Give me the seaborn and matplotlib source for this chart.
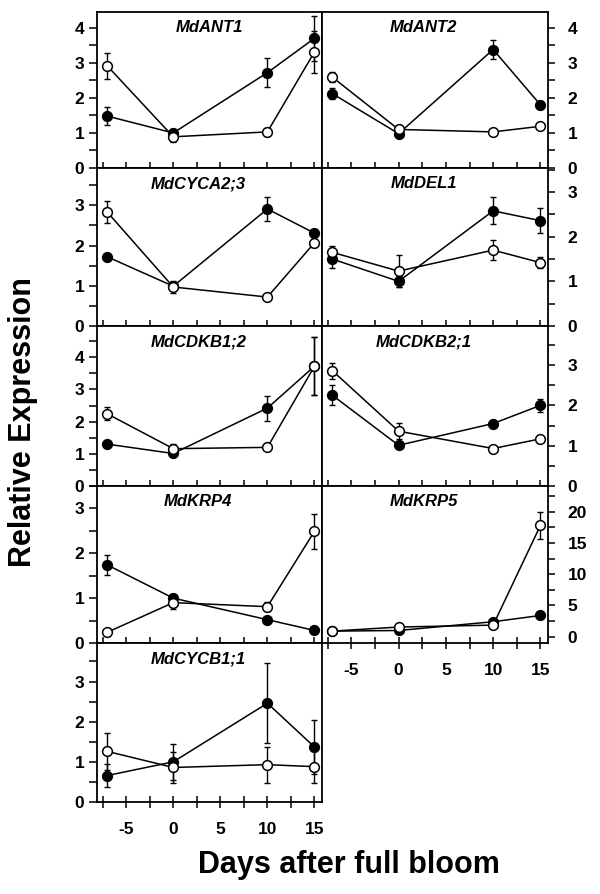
import numpy as np
import pandas as pd
import matplotlib
matplotlib.use("Agg")
import matplotlib.pyplot as plt
from matplotlib.ticker import MultipleLocator
import seaborn as sns

# =========================
# DATA
# =========================

days = [-7, 0, 10, 15]

genes = ["MdANT1", "MdANT2", "MdCYCA2;3", "MdDEL1", "MdCDKB1;2",
         "MdCDKB2;1", "MdKRP4", "MdKRP5", "MdCYCB1;1"]

# filled circles
ant1_closed = [1.48, 1.00, 2.72, 3.70]
ant1_closed_err = [0.25, 0.10, 0.42, 0.65]
ant2_closed = [2.12, 0.98, 3.38, 1.80]
ant2_closed_err = [0.15, 0.06, 0.28, 0.12]
cyca23_closed = [1.72, 0.99, 2.91, 2.31]
cyca23_closed_err = [0.0, 0.10, 0.30, 0.08]
del1_closed = [1.50, 1.00, 2.58, 2.36]
del1_closed_err = [0.20, 0.12, 0.30, 0.28]
cdkb12_closed = [1.30, 1.01, 2.42, 3.72]
cdkb12_closed_err = [0.06, 0.08, 0.39, 0.90]
cdkb21_closed = [2.25, 1.01, 1.55, 2.00]
cdkb21_closed_err = [0.25, 0.05, 0.10, 0.17]
krp4_closed = [1.74, 1.00, 0.52, 0.28]
krp4_closed_err = [0.22, 0.10, 0.0, 0.0]
krp5_closed = [0.9, 1.0, 2.4, 3.4]
krp5_closed_err = [0.0, 0.0, 0.3, 0.3]
cycb11_closed = [0.66, 1.00, 2.46, 1.37]
cycb11_closed_err = [0.28, 0.45, 1.00, 0.68]

# open circles
ant1_open = [2.91, 0.89, 1.03, 3.31]
ant1_open_err = [0.36, 0.15, 0.12, 0.60]
ant2_open = [2.59, 1.10, 1.03, 1.19]
ant2_open_err = [0.15, 0.08, 0.0, 0.0]
cyca23_open = [2.83, 0.97, 0.72, 2.07]
cyca23_open_err = [0.28, 0.15, 0.0, 0.10]
del1_open = [1.65, 1.23, 1.70, 1.42]
del1_open_err = [0.15, 0.35, 0.22, 0.12]
cdkb12_open = [2.24, 1.16, 1.20, 3.72]
cdkb12_open_err = [0.20, 0.15, 0.0, 0.90]
cdkb21_open = [2.86, 1.36, 0.93, 1.17]
cdkb21_open_err = [0.20, 0.20, 0.05, 0.08]
krp4_open = [0.24, 0.90, 0.81, 2.49]
krp4_open_err = [0.0, 0.15, 0.10, 0.39]
krp5_open = [0.9, 1.55, 1.86, 17.8]
krp5_open_err = [0.0, 0.0, 0.0, 2.1]
cycb11_open = [1.26, 0.86, 0.93, 0.88]
cycb11_open_err = [0.47, 0.38, 0.45, 0.40]

closed_vals = [ant1_closed, ant2_closed, cyca23_closed, del1_closed, cdkb12_closed,
               cdkb21_closed, krp4_closed, krp5_closed, cycb11_closed]
closed_errs = [ant1_closed_err, ant2_closed_err, cyca23_closed_err, del1_closed_err,
               cdkb12_closed_err, cdkb21_closed_err, krp4_closed_err, krp5_closed_err,
               cycb11_closed_err]
open_vals = [ant1_open, ant2_open, cyca23_open, del1_open, cdkb12_open,
             cdkb21_open, krp4_open, krp5_open, cycb11_open]
open_errs = [ant1_open_err, ant2_open_err, cyca23_open_err, del1_open_err,
             cdkb12_open_err, cdkb21_open_err, krp4_open_err, krp5_open_err,
             cycb11_open_err]

y_limits = [(0, 4.45), (0, 4.45), (0, 3.93), (0, 3.54), (0, 4.97),
            (0, 3.97), (0, 3.5), (-1, 24.1), (0, 3.96)]
y_major = [1, 1, 1, 1, 1, 1, 1, 5, 1]

# =========================
# STYLE
# =========================

sns.set_theme(style="ticks")
plt.rcParams['font.family'] = ['Liberation Sans', 'DejaVu Sans']
plt.rcParams['font.weight'] = 'bold'
plt.rcParams['axes.linewidth'] = 1.3
plt.rcParams['axes.unicode_minus'] = False
for key in ['text.color', 'axes.labelcolor', 'xtick.color', 'ytick.color',
            'axes.edgecolor']:
    plt.rcParams[key] = 'black'

fig = plt.figure(figsize=(6, 8.94), dpi=100)
W, H = 600.0, 894.0

col_x = [97, 322]
col_w = [225, 226]
row_edges = [12, 168, 326, 486, 643, 802]

# =========================
# PANELS
# =========================

for i, gene in enumerate(genes):
    row, col = divmod(i, 2)
    top, bot = row_edges[row], row_edges[row + 1]
    ax = fig.add_axes([col_x[col] / W, 1 - bot / H, col_w[col] / W, (bot - top) / H])

    df = pd.DataFrame({
        "day": days * 2,
        "value": closed_vals[i] + open_vals[i],
        "err": closed_errs[i] + open_errs[i],
        "group": ["closed"] * 4 + ["open"] * 4,
    })

    for grp, face in [("closed", "black"), ("open", "white")]:
        sub = df[df["group"] == grp]
        ax.errorbar(sub["day"], sub["value"], yerr=sub["err"], fmt="none",
                    ecolor="black", elinewidth=1, capsize=2.3, capthick=1, zorder=2)
        sns.lineplot(data=sub, x="day", y="value", ax=ax, color="black",
                     linewidth=1.1, marker="o", markersize=7,
                     markerfacecolor=face, markeredgecolor="black",
                     markeredgewidth=1.1, zorder=3)

    ax.set_xlim(-8.1, 15.8)
    ax.set_ylim(*y_limits[i])
    ax.xaxis.set_major_locator(MultipleLocator(5))
    ax.xaxis.set_minor_locator(MultipleLocator(2.5))
    ax.yaxis.set_major_locator(MultipleLocator(y_major[i]))
    ax.yaxis.set_minor_locator(MultipleLocator(y_major[i] / 2))
    ax.set_xlabel("")
    ax.set_ylabel("")

    for s in ax.spines.values():
        s.set_visible(True)
        s.set_color("black")

    bottom_panel = (i == 8) or (i == 7)
    if bottom_panel:
        ax.tick_params(axis="x", which="both", direction="inout", length=9,
                       width=1.1, labelsize=12.5, pad=10, labelbottom=True)
    else:
        ax.tick_params(axis="x", which="both", direction="in", length=4,
                       width=1.1, labelbottom=False)

    if col == 0:
        ax.tick_params(axis="y", which="major", direction="out", length=6, width=1.1,
                       labelsize=12.5, pad=3, left=True, right=False,
                       labelleft=True, labelright=False)
        ax.tick_params(axis="y", which="minor", direction="out", length=6, width=1.1,
                       left=True, right=False)
    else:
        ax.tick_params(axis="y", which="major", direction="out", length=5, width=1.1,
                       labelsize=12.5, pad=9, left=False, right=True,
                       labelleft=False, labelright=True)
        ax.tick_params(axis="y", which="minor", direction="out", length=5, width=1.1,
                       left=False, right=True)

    for lab in ax.get_xticklabels() + ax.get_yticklabels():
        lab.set_fontweight("bold")

    tx = 0.5 if i == 0 else 0.45
    ax.text(tx, 0.9, gene, transform=ax.transAxes, ha="center", va="center",
            fontsize=12, fontweight="bold", fontstyle="italic")

    if ax.get_legend() is not None:
        ax.get_legend().remove()

fig.text(23 / W, 1 - 422 / H, "Relative Expression", rotation=90, ha="center",
         va="center", fontsize=22, fontweight="bold")
fig.text(349 / W, 1 - 865 / H, "Days after full bloom", ha="center",
         va="center", fontsize=22, fontweight="bold")

plt.savefig("out.png", dpi=100)
